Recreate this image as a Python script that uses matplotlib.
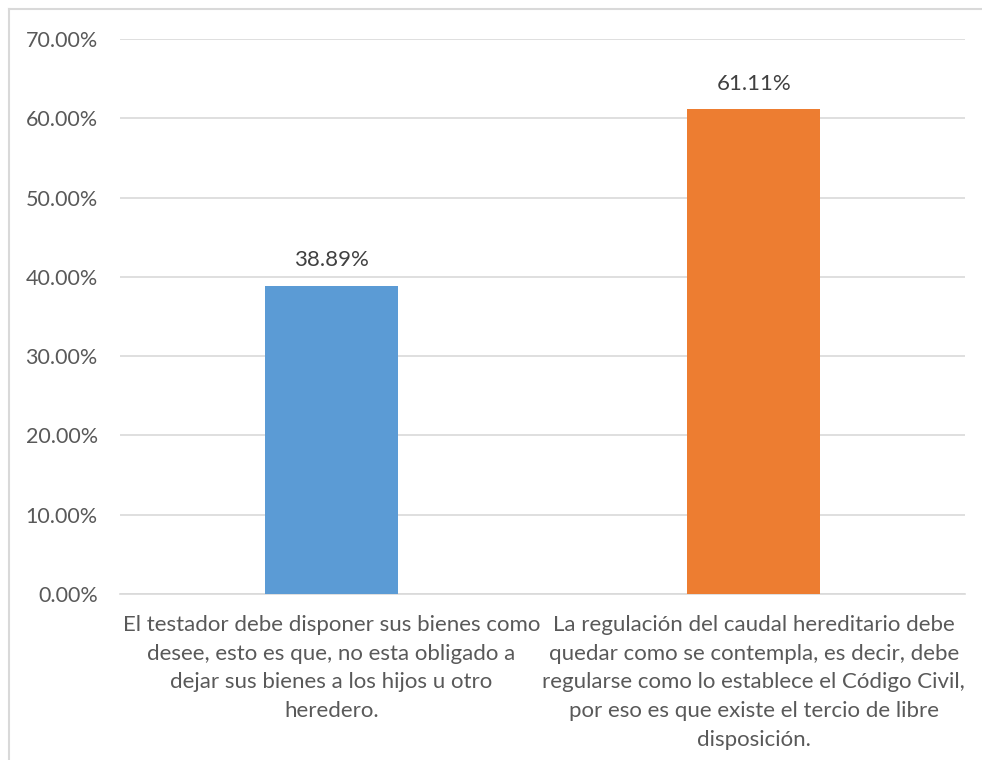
import matplotlib
matplotlib.use("Agg")
import matplotlib.pyplot as plt
from matplotlib.lines import Line2D
from matplotlib.ticker import FuncFormatter

categories = [
    "El testador debe disponer sus bienes como\ndesee, esto es que, no esta obligado a\ndejar sus bienes a los hijos u otro\nheredero.",
    "La regulación del caudal hereditario debe\nquedar como se contempla, es decir, debe\nregularse como lo establece el Código Civil,\npor eso es que existe el tercio de libre\ndisposición.",
]
values = [38.89, 61.11]
colors = ["#5B9BD5", "#ED7D31"]
yticks = [0, 10, 20, 30, 40, 50, 60, 70]

plt.rcParams["font.family"] = ["Lato", "DejaVu Sans"]
text_color = "#595959"

W, H = 982, 760
fig = plt.figure(figsize=(W / 100, H / 100), dpi=100)
ax = fig.add_axes([120 / W, 1 - 594 / H, (965 - 120) / W, (594 - 39) / H])

x = range(len(values))
bars = ax.bar(x, values, width=0.315, color=colors, zorder=3)
ax.set_xlim(-0.5, 1.5)
ax.set_ylim(0, 70)
ax.set_yticks(yticks)
ax.yaxis.set_major_formatter(FuncFormatter(lambda v, p: f"{v:.2f}%"))
ax.set_xticks(list(x))
ax.set_xticklabels(categories, linespacing=1.55)
ax.grid(axis="y", color="#D9D9D9", linewidth=1.2, zorder=0)
for s in ["top", "right", "left"]:
    ax.spines[s].set_visible(False)
ax.spines["bottom"].set_color("#D9D9D9")
ax.spines["bottom"].set_linewidth(1.2)
ax.tick_params(axis="y", length=0, pad=16, labelsize=15.5, labelcolor=text_color)
ax.tick_params(axis="x", length=0, pad=15, labelsize=16, labelcolor=text_color)

for b, v in zip(bars, values):
    ax.annotate(f"{v:.2f}%", (b.get_x() + b.get_width() / 2, v),
                xytext=(0, 11), textcoords="offset points",
                ha="center", va="bottom", fontsize=16, color="#404040")

# outer chart border (top and left visible)
fig.add_artist(Line2D([9 / W, 9 / W], [0, 1 - 9 / H], color="#D9D9D9", linewidth=1.5))
fig.add_artist(Line2D([9 / W, 1], [1 - 9 / H, 1 - 9 / H], color="#D9D9D9", linewidth=1.5))

fig.savefig("out.png", dpi=100)
